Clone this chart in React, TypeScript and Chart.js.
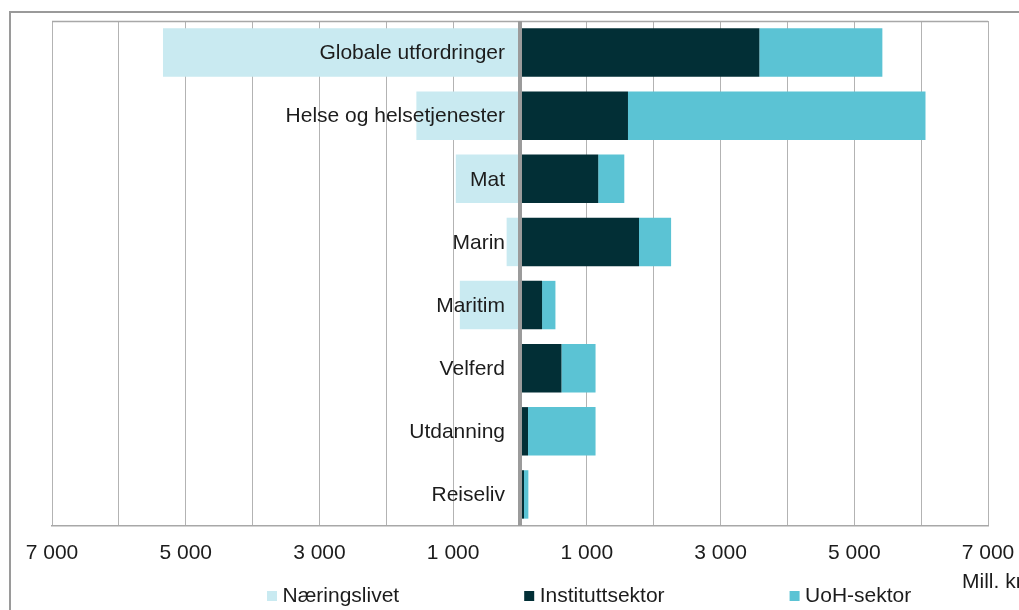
import React, { useEffect, useRef } from 'react';
import { Chart, registerables } from 'chart.js';

Chart.register(...registerables);

// ---- Data ----
const categories = [
  'Globale utfordringer',
  'Helse og helsetjenester',
  'Mat',
  'Marin',
  'Maritim',
  'Velferd',
  'Utdanning',
  'Reiseliv',
];
const seriesNames = ['Næringslivet', 'Instituttsektor', 'UoH-sektor'];
const naeringslivet = [-5340, -1550, -960, -200, -900, -20, -20, -10];
const instituttsektor = [3580, 1615, 1170, 1780, 330, 620, 120, 60];
const uohSektor = [1840, 4450, 390, 480, 200, 510, 1010, 65];
const xTickLabelValues = [-7000, -5000, -3000, -1000, 1000, 3000, 5000, 7000];
const unitLabel = 'Mill. kr';

// ---- Styles ----
const FONT = "'Liberation Sans', Arial, sans-serif";
const TEXT_COLOR = '#1c1c1c';
const seriesColors = ['#c9eaf1', '#022f36', '#5bc3d4'];

const formatThousands = (v: number) => {
  const s = String(Math.abs(v));
  return s.replace(/\B(?=(\d{3})+(?!\d))/g, ' ');
};

const decorPlugin = {
  id: 'decor',
  beforeDraw(chart: any) {
    const ctx = chart.ctx;
    ctx.save();
    ctx.fillStyle = '#ffffff';
    ctx.fillRect(0, 0, chart.width, chart.height);
    ctx.strokeStyle = '#9a9a9a';
    ctx.lineWidth = 2;
    ctx.strokeRect(10, 12, chart.width + 20, chart.height + 20);
    ctx.restore();
  },
  afterDatasetsDraw(chart: any) {
    const ctx = chart.ctx;
    const { left, right, top, bottom } = chart.chartArea;
    const xs = chart.scales.x;
    const ys = chart.scales.y;
    ctx.save();
    // top border of plot
    ctx.strokeStyle = '#a8a8a8';
    ctx.lineWidth = 1.5;
    ctx.beginPath();
    ctx.moveTo(left, top + 0.5);
    ctx.lineTo(right, top + 0.5);
    ctx.stroke();
    // zero line
    const x0 = xs.getPixelForValue(0);
    ctx.strokeStyle = '#9b9b9b';
    ctx.lineWidth = 4;
    ctx.beginPath();
    ctx.moveTo(x0, top);
    ctx.lineTo(x0, bottom);
    ctx.stroke();
    // category labels beside the zero line
    ctx.font = `21px ${FONT}`;
    ctx.fillStyle = TEXT_COLOR;
    ctx.textAlign = 'right';
    ctx.textBaseline = 'middle';
    categories.forEach((c, i) => {
      ctx.fillText(c, x0 - 15, ys.getPixelForValue(i) + 1);
    });
    ctx.restore();
  },
  afterDraw(chart: any) {
    const ctx = chart.ctx;
    ctx.save();
    ctx.font = `21px ${FONT}`;
    ctx.fillStyle = TEXT_COLOR;
    ctx.textBaseline = 'middle';
    ctx.textAlign = 'left';
    // custom legend
    let x = 267;
    const yMid = 596;
    const box = 10;
    const gap = 5.5;
    const spacing = 125;
    chart.data.datasets.forEach((ds: any) => {
      ctx.fillStyle = ds.backgroundColor;
      ctx.fillRect(x, yMid - box / 2, box, box);
      ctx.fillStyle = TEXT_COLOR;
      ctx.fillText(ds.label, x + box + gap, yMid);
      x += box + gap + ctx.measureText(ds.label).width + spacing;
    });
    // unit label
    ctx.fillText(unitLabel, 962, 582);
    ctx.restore();
  },
};

export default function App() {
  const canvasRef = useRef<HTMLCanvasElement | null>(null);

  useEffect(() => {
    if (!canvasRef.current) return;
    const chart = new Chart(canvasRef.current, {
      type: 'bar',
      data: {
        labels: categories,
        datasets: [
          { label: seriesNames[0], data: naeringslivet, backgroundColor: seriesColors[0] },
          { label: seriesNames[1], data: instituttsektor, backgroundColor: seriesColors[1] },
          { label: seriesNames[2], data: uohSektor, backgroundColor: seriesColors[2] },
        ],
      },
      options: {
        indexAxis: 'y',
        animation: false,
        responsive: false,
        devicePixelRatio: 1,
        layout: { padding: { left: 52, right: 31, top: 21, bottom: 46 } },
        datasets: {
          bar: { barPercentage: 0.767, categoryPercentage: 1, borderWidth: 0 },
        },
        scales: {
          x: {
            stacked: true,
            min: -7000,
            max: 7000,
            afterFit: (scale: any) => {
              scale.paddingLeft = 0;
              scale.paddingRight = 0;
              scale.paddingTop = 0;
              scale.paddingBottom = 0;
              scale.height = 38;
            },
            grid: {
              color: (ctx: any) => (ctx.tick && ctx.tick.value === 0 ? 'rgba(0,0,0,0)' : '#b3b3b3'),
              lineWidth: 1,
              drawTicks: false,
            },
            border: { display: true, color: '#a8a8a8', width: 1.5 },
            ticks: {
              stepSize: 1000,
              autoSkip: false,
              maxRotation: 0,
              padding: 15,
              color: TEXT_COLOR,
              font: { family: FONT, size: 21 },
              callback: (v: any) =>
                xTickLabelValues.includes(Number(v)) ? formatThousands(Number(v)) : '',
            },
          },
          y: {
            stacked: true,
            display: false,
          },
        },
        plugins: {
          legend: { display: false },
          tooltip: { enabled: false },
        },
      },
      plugins: [decorPlugin],
    });
    return () => chart.destroy();
  }, []);

  return (
    <canvas
      ref={canvasRef}
      width={1019}
      height={610}
      style={{ position: 'absolute', left: 0, top: 0, width: 1019, height: 610 }}
    />
  );
}
